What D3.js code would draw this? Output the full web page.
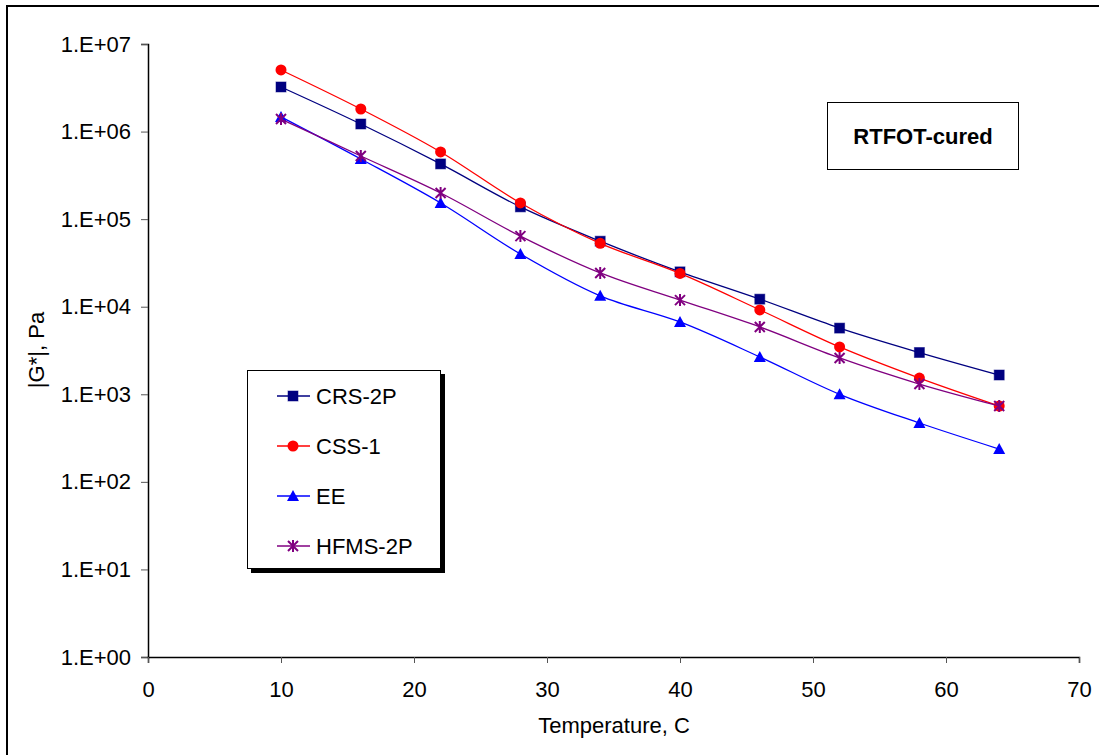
<!DOCTYPE html>
<html>
<head>
<meta charset="utf-8">
<script src="https://cdn.jsdelivr.net/npm/d3@7"></script>
<style>
  body { margin: 0; background: #fff; }
  text { font-family: Arial, "Liberation Sans", sans-serif; fill: #000; }
</style>
</head>
<body>
<div id="chart"></div>
<script>
// Data
var temps = [10, 16, 22, 28, 34, 40, 46, 52, 58, 64];
var crs2p = [3.23e6, 1.22e6, 4.27e5, 1.38e5, 5.6e4, 2.5e4, 1.22e4, 5.7e3, 3.0e3, 1.66e3];
var css1 = [5.05e6, 1.81e6, 5.85e5, 1.53e5, 5.3e4, 2.4e4, 9.2e3, 3.47e3, 1.53e3, 7.35e2];
var ee = [1.47e6, 4.86e5, 1.53e5, 4.0e4, 1.33e4, 6.7e3, 2.67e3, 1.0e3, 4.7e2, 2.37e2];
var hfms2p = [1.39e6, 5.26e5, 1.99e5, 6.4e4, 2.43e4, 1.19e4, 5.87e3, 2.6e3, 1.31e3, 7.35e2];
var seriesNames = ["CRS-2P", "CSS-1", "EE", "HFMS-2P"];
var xTicks = [0, 10, 20, 30, 40, 50, 60, 70];
var yTicks = [1, 10, 100, 1e3, 1e4, 1e5, 1e6, 1e7];
var yTickLabels = ["1.E+00", "1.E+01", "1.E+02", "1.E+03", "1.E+04", "1.E+05", "1.E+06", "1.E+07"];

var W = 1099, H = 755;
var FONT = 22;
var svg = d3.select("#chart").append("svg")
  .attr("width", W).attr("height", H);

// outer frame (right/bottom edges fall outside the picture)
svg.append("rect")
  .attr("x", 7).attr("y", 6).attr("width", W + 10).attr("height", H + 10)
  .attr("fill", "none").attr("stroke", "#000").attr("stroke-width", 2);

var x = d3.scaleLinear().domain([0, 70]).range([148, 1079]);
var y = d3.scaleLog().domain([1, 1e7]).range([657, 44]);

// axes
var yAxis = svg.append("g").attr("transform", "translate(148,0)")
  .call(d3.axisLeft(y).tickValues(yTicks).tickSize(7).tickPadding(10)
    .tickFormat(function(d, i) { return yTickLabels[i]; }));
var xAxis = svg.append("g").attr("transform", "translate(0,657)")
  .call(d3.axisBottom(x).tickValues(xTicks).tickSize(6).tickPadding(18)
    .tickFormat(d3.format("d")));
[xAxis, yAxis].forEach(function(a) {
  a.select(".domain").attr("stroke", "#000").attr("stroke-width", 1.5);
  a.selectAll(".tick line").attr("stroke", "#555").attr("stroke-width", 1);
  a.selectAll(".tick text").attr("font-size", FONT).attr("font-family", "Arial, 'Liberation Sans', sans-serif").attr("fill", "#000");
});

svg.append("text")
  .attr("x", 614).attr("y", 733).attr("text-anchor", "middle")
  .attr("font-size", FONT).text("Temperature, C");
svg.append("text")
  .attr("transform", "translate(44,350) rotate(-90)")
  .attr("text-anchor", "middle").attr("font-size", FONT).text("|G*|, Pa");

// series
var series = [
  { name: seriesNames[0], values: crs2p, color: "#000080", marker: "square" },
  { name: seriesNames[1], values: css1, color: "#ff0000", marker: "circle" },
  { name: seriesNames[2], values: ee, color: "#0000ff", marker: "triangle" },
  { name: seriesNames[3], values: hfms2p, color: "#800080", marker: "star" }
];

var line = d3.line()
  .x(function(d) { return x(d[0]); })
  .y(function(d) { return y(d[1]); })
  .curve(d3.curveCatmullRom.alpha(0.5));

function drawMarker(g, type, color) {
  if (type === "square") {
    g.append("rect").attr("x", -5).attr("y", -5).attr("width", 10).attr("height", 10)
      .attr("fill", color).attr("stroke", color).attr("stroke-opacity", 0.5);
  } else if (type === "circle") {
    g.append("circle").attr("r", 5.5).attr("fill", color);
  } else if (type === "triangle") {
    g.append("path").attr("d", "M0,-6L6,5L-6,5Z").attr("fill", color);
  } else {
    g.append("path").attr("d", "M-5,-5L5,5M-5,5L5,-5M0,-6L0,6")
      .attr("stroke", color).attr("stroke-width", 2).attr("fill", "none");
  }
}

series.forEach(function(s) {
  var pts = temps.map(function(t, i) { return [t, s.values[i]]; });
  svg.append("path").datum(pts)
    .attr("d", line).attr("fill", "none")
    .attr("stroke", s.color).attr("stroke-width", 1.3);
  pts.forEach(function(p) {
    var g = svg.append("g").attr("transform", "translate(" + x(p[0]) + "," + y(p[1]) + ")");
    drawMarker(g, s.marker, s.color);
  });
});

// legend
var lg = svg.append("g");
lg.append("rect").attr("x", 251).attr("y", 374).attr("width", 194).attr("height", 199).attr("fill", "#000");
lg.append("rect").attr("x", 247.5).attr("y", 370.5).attr("width", 193).attr("height", 198)
  .attr("fill", "#fff").attr("stroke", "#000").attr("stroke-width", 1);
series.forEach(function(s, i) {
  var ly = 396 + i * 50;
  lg.append("line").attr("x1", 277).attr("x2", 310).attr("y1", ly).attr("y2", ly)
    .attr("stroke", s.color).attr("stroke-width", 1.3);
  drawMarker(lg.append("g").attr("transform", "translate(293," + ly + ")"), s.marker, s.color);
  lg.append("text").attr("x", 316).attr("y", ly + 8).attr("font-size", FONT).text(s.name);
});

// annotation box
svg.append("rect").attr("x", 827.5).attr("y", 102.5).attr("width", 191).attr("height", 67)
  .attr("fill", "#fff").attr("stroke", "#000").attr("stroke-width", 1);
svg.append("text").attr("x", 923).attr("y", 144).attr("text-anchor", "middle")
  .attr("font-size", FONT).attr("font-weight", "bold").text("RTFOT-cured");
</script>
</body>
</html>
